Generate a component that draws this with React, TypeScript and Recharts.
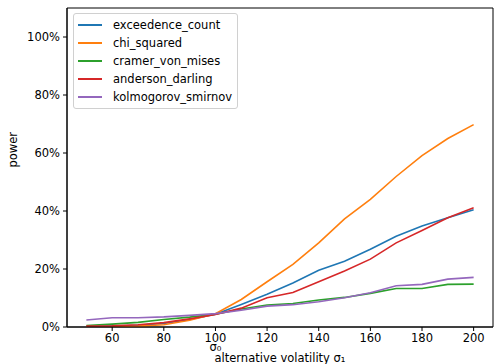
import React from "react";
import { LineChart, Line, XAxis, YAxis, ReferenceLine, ReferenceArea } from "recharts";

const sigmas = [50, 60, 70, 80, 90, 100, 110, 120, 130, 140, 150, 160, 170, 180, 190, 200];
const exceedenceCount = [0.001, 0.003, 0.006, 0.012, 0.026, 0.044, 0.078, 0.113, 0.152, 0.196, 0.227, 0.268, 0.313, 0.348, 0.377, 0.404];
const chiSquared = [0.0, 0.001, 0.003, 0.008, 0.023, 0.046, 0.095, 0.156, 0.216, 0.29, 0.373, 0.44, 0.519, 0.591, 0.65, 0.698];
const cramerVonMises = [0.005, 0.01, 0.016, 0.026, 0.034, 0.044, 0.062, 0.076, 0.081, 0.093, 0.102, 0.116, 0.133, 0.133, 0.147, 0.148];
const andersonDarling = [0.003, 0.004, 0.008, 0.015, 0.028, 0.043, 0.065, 0.101, 0.119, 0.156, 0.193, 0.234, 0.29, 0.333, 0.377, 0.411];
const kolmogorovSmirnov = [0.024, 0.032, 0.032, 0.035, 0.04, 0.046, 0.058, 0.072, 0.077, 0.087, 0.101, 0.118, 0.142, 0.147, 0.165, 0.171];
const xTicks = [60, 80, 100, 120, 140, 160, 180, 200];
const yTicks = [0, 0.2, 0.4, 0.6, 0.8, 1.0];

const series = [
  { key: "exceedence_count", values: exceedenceCount, color: "#1f77b4" },
  { key: "chi_squared", values: chiSquared, color: "#ff7f0e" },
  { key: "cramer_von_mises", values: cramerVonMises, color: "#2ca02c" },
  { key: "anderson_darling", values: andersonDarling, color: "#d62728" },
  { key: "kolmogorov_smirnov", values: kolmogorovSmirnov, color: "#9467bd" },
];

const data = sigmas.map((s, i) => {
  const row: Record<string, number> = { sigma: s };
  series.forEach((sr) => (row[sr.key] = sr.values[i]));
  return row;
});

const font = "'DejaVu Sans', sans-serif";
const fs = 11.5;

// legend drawn as an overlay so it doesn't shrink the plot area
const LegendBox = () => (
  <div
    style={{
      position: "absolute",
      left: 73,
      top: 13,
      border: "1px solid #d0d0d0",
      borderRadius: 3,
      background: "rgba(255,255,255,0.8)",
      padding: "2px 5px 2px 4px",
      fontFamily: font,
      fontSize: fs,
      color: "#000",
    }}
  >
    {series.map((s) => (
      <div key={s.key} style={{ display: "flex", alignItems: "center", height: 18 }}>
        <span style={{ display: "inline-block", width: 24, height: 2, background: s.color, marginRight: 11 }} />
        <span>{s.key}</span>
      </div>
    ))}
  </div>
);

export default function App() {
  return (
    <div style={{ position: "absolute", left: 0, top: 0, width: 494, height: 364, background: "#fff" }}>
      <LineChart width={494} height={364} data={data} margin={{ top: 8, right: 1, left: 0, bottom: 0 }}>
        <XAxis
          dataKey="sigma"
          type="number"
          domain={[42.5, 207.5]}
          ticks={xTicks}
          allowDataOverflow
          height={37}
          tickSize={4}
          tickMargin={3}
          stroke="#000"
          tick={{ fill: "#000", fontSize: fs, fontFamily: font }}
          label={{ value: "alternative volatility σ₁", position: "insideBottom", offset: 2, fill: "#000", fontSize: fs, fontFamily: font }}
        />
        <YAxis
          type="number"
          domain={[0, 1.1]}
          ticks={yTicks}
          allowDataOverflow
          width={67}
          tickSize={4}
          tickMargin={3}
          stroke="#000"
          tickFormatter={(v: number) => `${Math.round(v * 100)}%`}
          tick={{ fill: "#000", fontSize: fs, fontFamily: font }}
          label={{ value: "power", angle: -90, position: "insideLeft", offset: 13, fill: "#000", fontSize: fs, fontFamily: font }}
        />
        <ReferenceArea x1={42.5} x2={207.5} y1={0} y2={1.1} fill="none" stroke="#000" strokeWidth={1} />
        <ReferenceLine
          x={100}
          stroke="none"
          label={{ value: "σ₀", position: "bottom", offset: 16, fill: "#000", fontSize: fs, fontFamily: font }}
        />
        {series.map((s) => (
          <Line
            key={s.key}
            dataKey={s.key}
            stroke={s.color}
            strokeWidth={1.6}
            dot={false}
            type="linear"
            isAnimationActive={false}
          />
        ))}
      </LineChart>
      <LegendBox />
    </div>
  );
}
